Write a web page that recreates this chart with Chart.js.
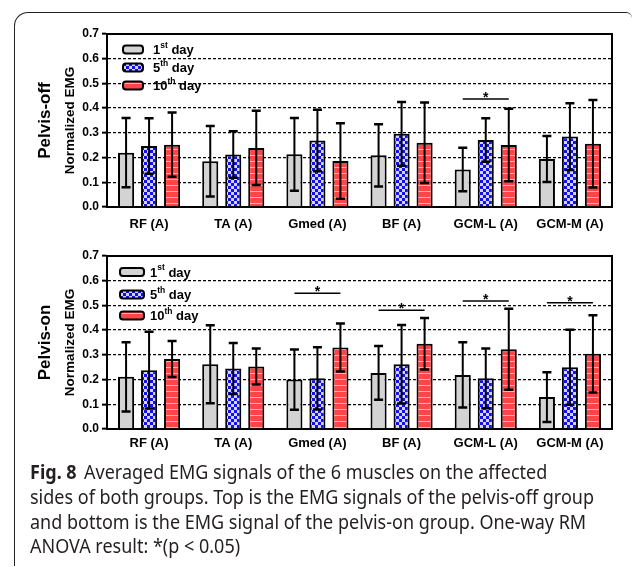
<!DOCTYPE html>
<html lang="en">
<head>
  <meta charset="UTF-8">
  <title>Averaged EMG signals</title>
  <script src="https://cdn.jsdelivr.net/npm/chart.js"></script>
  <style>
    body {
      margin: 0;
      background-color: #fff;
      width: 635px;
      height: 567px;
      position: relative;
      overflow: hidden;
    }
    #frame {
      position: absolute;
      left: 14px;
      top: 12px;
      width: 617px;
      height: 553px;
      border-top: 1.5px solid #222;
      border-left: 1.5px solid #222;
      border-top-left-radius: 14px;
      border-top-right-radius: 6px;
    }
    .box {
      position: absolute;
      left: 0;
      width: 635px;
      height: 235px;
    }
    #caption {
      position: absolute;
      left: 30px;
      top: 460px;
      font-family: 'Noto Sans', sans-serif;
      font-size: 19.5px;
      line-height: 24.8px;
      color: #231f20;
      white-space: nowrap;
      transform-origin: 0 0;
    }
    #caption b {
      font-weight: bold;
      margin-right: 8px;
    }
  </style>
</head>
<body>

<div id="frame"></div>
<div class="box" style="top:0"><canvas id="offChart" width="635" height="235"></canvas></div>
<div class="box" style="top:230px"><canvas id="onChart" width="635" height="235"></canvas></div>

<div id="caption">
  <div><b>Fig. 8</b>Averaged EMG signals of the 6 muscles on the affected</div>
  <div><span class="fit">sides of both groups. Top is the EMG signals of the pelvis-off group</span></div>
  <div>and bottom is the EMG signal of the pelvis-on group. One-way RM</div>
  <div>ANOVA result: *(p &lt; 0.05)</div>
</div>

<script>
  const categories = ['RF (A)', 'TA (A)', 'Gmed (A)', 'BF (A)', 'GCM-L (A)', 'GCM-M (A)'];
  const yTicks = [0, 0.1, 0.2, 0.3, 0.4, 0.5, 0.6, 0.7];

  // pelvis-off group (mean, sd)
  const offDay1 = [0.220, 0.185, 0.213, 0.209, 0.152, 0.194];
  const offDay1Sd = [0.140, 0.143, 0.147, 0.126, 0.088, 0.093];
  const offDay5 = [0.247, 0.212, 0.269, 0.296, 0.271, 0.285];
  const offDay5Sd = [0.112, 0.094, 0.124, 0.129, 0.088, 0.135];
  const offDay10 = [0.252, 0.239, 0.186, 0.260, 0.251, 0.256];
  const offDay10Sd = [0.130, 0.150, 0.153, 0.163, 0.147, 0.177];
  const offSigIndex = [4];
  const offSigLevel = [0.437];

  // pelvis-on group (mean, sd)
  const onDay1 = [0.211, 0.262, 0.200, 0.227, 0.219, 0.129];
  const onDay1Sd = [0.140, 0.158, 0.122, 0.109, 0.132, 0.101];
  const onDay5 = [0.238, 0.245, 0.205, 0.262, 0.205, 0.250];
  const onDay5Sd = [0.155, 0.103, 0.126, 0.159, 0.121, 0.152];
  const onDay10 = [0.283, 0.253, 0.330, 0.345, 0.323, 0.304];
  const onDay10Sd = [0.073, 0.073, 0.097, 0.104, 0.164, 0.156];
  const onSigIndex = [2, 3, 4, 5];
  const onSigLevel = [0.549, 0.480, 0.518, 0.511];

  const legendNum = ['1', '5', '10'];
  const legendSup = ['st', 'th', 'th'];

  function makeTile(draw) {
    const c = document.createElement('canvas');
    c.width = 6;
    c.height = 6;
    const g = c.getContext('2d');
    draw(g);
    return g.createPattern(c, 'repeat');
  }

  const grayFill = '#d3d3d3';
  const blueFill = makeTile(g => {
    g.fillStyle = '#d4d4ee';
    g.fillRect(0, 0, 6, 6);
    g.fillStyle = '#1010f0';
    g.fillRect(0, 0, 3, 3);
    g.fillRect(3, 3, 3, 3);
  });
  const redFill = makeTile(g => {
    g.fillStyle = '#ff4545';
    g.fillRect(0, 0, 6, 6);
    g.fillStyle = '#ffb0b0';
    g.fillRect(0, 5, 6, 1);
  });
  const fills = [grayFill, blueFill, redFill];
  const FONT = '"Liberation Sans", Arial, sans-serif';

  const extras = {
    id: 'extras',
    afterDatasetsDraw(chart, args, opts) {
      const ctx = chart.ctx;
      const ys = chart.scales.y;
      const area = chart.chartArea;
      ctx.save();

      // error bars
      ctx.strokeStyle = '#000';
      chart.data.datasets.forEach((ds, i) => {
        const meta = chart.getDatasetMeta(i);
        meta.data.forEach((bar, j) => {
          const top = ys.getPixelForValue(ds.data[j] + ds.sd[j]);
          const bot = ys.getPixelForValue(ds.data[j] - ds.sd[j]);
          ctx.lineWidth = 2;
          ctx.beginPath();
          ctx.moveTo(bar.x, top);
          ctx.lineTo(bar.x, bot);
          ctx.stroke();
          ctx.lineWidth = 2.5;
          ctx.beginPath();
          ctx.moveTo(bar.x - 4.5, top);
          ctx.lineTo(bar.x + 4.5, top);
          ctx.moveTo(bar.x - 4.5, bot);
          ctx.lineTo(bar.x + 4.5, bot);
          ctx.stroke();
        });
      });

      // plot frame top and right
      ctx.lineWidth = 2;
      ctx.beginPath();
      ctx.moveTo(area.left, area.top);
      ctx.lineTo(area.right, area.top);
      ctx.lineTo(area.right, area.bottom);
      ctx.stroke();

      // significance marks
      const first = chart.getDatasetMeta(0).data;
      const last = chart.getDatasetMeta(2).data;
      ctx.lineWidth = 1.5;
      ctx.fillStyle = '#000';
      ctx.font = 'bold 14px ' + FONT;
      ctx.textAlign = 'center';
      ctx.textBaseline = 'alphabetic';
      opts.sigIndex.forEach((k, n) => {
        const y = ys.getPixelForValue(opts.sigLevel[n]);
        const x1 = first[k].x, x2 = last[k].x;
        ctx.beginPath();
        ctx.moveTo(x1, y);
        ctx.lineTo(x2, y);
        ctx.stroke();
        ctx.fillText('*', (x1 + x2) / 2, y + 3);
      });

      // legend
      opts.legendY.forEach((ly, i) => {
        const bx = opts.legendX, bw = opts.boxW, bh = 8;
        ctx.beginPath();
        ctx.roundRect(bx, ly - bh / 2, bw, bh, 3);
        ctx.fillStyle = fills[i];
        ctx.fill();
        ctx.lineWidth = 2;
        ctx.strokeStyle = '#000';
        ctx.stroke();
        ctx.fillStyle = '#000';
        ctx.textAlign = 'left';
        ctx.textBaseline = 'middle';
        let tx = opts.textX;
        ctx.font = 'bold 13px ' + FONT;
        ctx.fillText(legendNum[i], tx, ly + 1);
        tx += ctx.measureText(legendNum[i]).width;
        ctx.font = 'bold 8.5px ' + FONT;
        ctx.fillText(legendSup[i], tx, ly - 4);
        tx += ctx.measureText(legendSup[i]).width;
        ctx.font = 'bold 13px ' + FONT;
        ctx.fillText(' day', tx, ly + 1);
      });

      // axis titles
      const cy = (area.top + area.bottom) / 2;
      ctx.textAlign = 'center';
      ctx.textBaseline = 'middle';
      ctx.save();
      ctx.translate(70, cy);
      ctx.rotate(-Math.PI / 2);
      ctx.font = 'bold 13.5px ' + FONT;
      ctx.fillText('Normalized EMG', 0, 0);
      ctx.restore();
      ctx.save();
      ctx.translate(45, cy);
      ctx.rotate(-Math.PI / 2);
      ctx.font = 'bold 17px ' + FONT;
      ctx.fillText(opts.group, 0, 0);
      ctx.restore();

      ctx.restore();
    }
  };

  function buildChart(id, d1, s1, d5, s5, d10, s10, opts) {
    const ctx = document.getElementById(id).getContext('2d');
    return new Chart(ctx, {
      type: 'bar',
      data: {
        labels: categories,
        datasets: [d1, d5, d10].map((vals, i) => ({
          label: legendNum[i] + legendSup[i] + ' day',
          data: vals,
          sd: [s1, s5, s10][i],
          backgroundColor: fills[i],
          borderColor: '#000',
          borderWidth: 2,
          categoryPercentage: 0.82,
          barPercentage: 0.7
        }))
      },
      options: {
        responsive: false,
        animation: false,
        layout: { padding: { top: opts.padTop, right: 23, left: 0, bottom: 0 } },
        plugins: {
          legend: { display: false },
          tooltip: { enabled: false },
          extras: opts
        },
        scales: {
          x: {
            afterFit: s => { s.height = opts.xHeight; },
            grid: { display: false, drawTicks: false },
            border: { color: '#000', width: 2 },
            ticks: {
              color: '#000',
              padding: opts.xPad,
              font: { family: FONT, size: 13, weight: 'bold' }
            }
          },
          y: {
            min: 0,
            max: 0.7,
            afterFit: s => { s.width = 107; },
            afterBuildTicks: s => { s.ticks = yTicks.map(v => ({ value: v })); },
            grid: {
              color: '#000',
              lineWidth: 1.3,
              tickLength: 5,
              tickColor: '#000',
              tickWidth: 2,
              tickBorderDash: []
            },
            border: { color: '#000', width: 2, dash: [3, 2] },
            ticks: {
              color: '#000',
              padding: 3,
              callback: v => v.toFixed(1),
              font: { family: FONT, size: 12, weight: 'bold' }
            }
          }
        }
      },
      plugins: [extras]
    });
  }

  buildChart('offChart', offDay1, offDay1Sd, offDay5, offDay5Sd, offDay10, offDay10Sd, {
    group: 'Pelvis-off', padTop: 34, xHeight: 28, xPad: 10,
    sigIndex: offSigIndex, sigLevel: offSigLevel,
    legendX: 123, boxW: 20, textX: 153, legendY: [49.5, 67.5, 85.5]
  });
  buildChart('onChart', onDay1, onDay1Sd, onDay5, onDay5Sd, onDay10, onDay10Sd, {
    group: 'Pelvis-on', padTop: 26, xHeight: 36, xPad: 7,
    sigIndex: onSigIndex, sigLevel: onSigLevel,
    legendX: 120, boxW: 24, textX: 150, legendY: [42, 64.5, 85.5]
  });

  // narrow the caption horizontally so the long line spans its measured width
  const fit = document.querySelector('#caption .fit');
  const wide = fit.getBoundingClientRect().width;
  document.getElementById('caption').style.transform = 'scaleX(' + (564 / wide).toFixed(3) + ')';
</script>
</body>
</html>
